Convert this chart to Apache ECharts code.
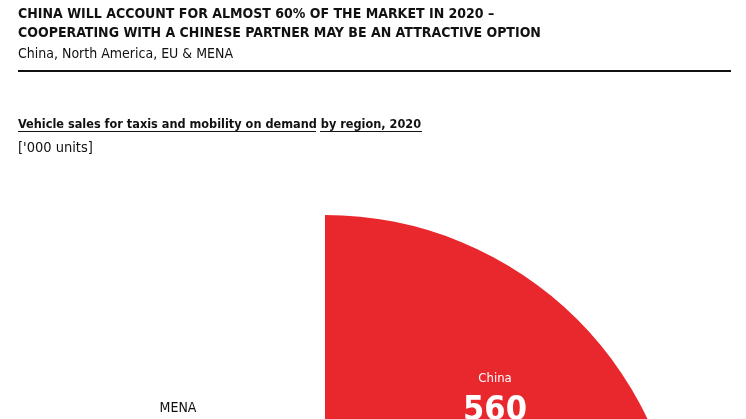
<!DOCTYPE html>
<html>
<head>
<meta charset="utf-8">
<script src="https://cdn.jsdelivr.net/npm/echarts@6/dist/echarts.min.js"></script>
<style>
html,body{margin:0;padding:0;background:#fff;}
#chart{width:746px;height:419px;}
</style>
</head>
<body>
<div id="chart"></div>
<script>
// ---- data ----
const regions = ['China', 'North America', 'EU', 'MENA'];
const sales = [560, 200, 110, 80];   // '000 units (only China legible; others estimated)
const sliceColors = ['#E8282D', '#ffffff', '#ffffff', '#ffffff'];

const titleLines = [
  'CHINA WILL ACCOUNT FOR ALMOST 60% OF THE MARKET IN 2020 \u2013',
  'COOPERATING WITH A CHINESE PARTNER MAY BE AN ATTRACTIVE OPTION'
];
const subtitle = 'China, North America, EU & MENA';
const chartTitleA = 'Vehicle sales for taxis and mobility on demand';
const chartTitleB = 'by region, 2020';
const unitText = "['000 units]";

const FONT = "'DejaVu Sans Condensed', 'Liberation Sans Narrow', Roboto, sans-serif";

const chart = echarts.init(document.getElementById('chart'), null, {renderer: 'canvas'});

const labelSpots = {
  'China': {x: 495, y: 401},
  'MENA': {x: 178, y: 408}
};

function t(text, top, size, bold) {
  return {text: text, left: 18, top: top, padding: 0,
    textStyle: {fontFamily: FONT, fontWeight: bold ? 'bold' : 'normal', fontSize: size, color: '#111'}};
}

const option = {
  animation: false,
  backgroundColor: '#fff',
  title: [
    t(titleLines[0], 7, 14, true),
    t(titleLines[1], 26, 14, true),
    t(subtitle, 47, 14, false),
    t(chartTitleA + ' ' + chartTitleB, 118, 12.6, true),
    t(unitText, 140.5, 14.5, false)
  ],
  graphic: [
    {type: 'line', shape: {x1: 18, y1: 71, x2: 731, y2: 71}, style: {stroke: '#111', lineWidth: 2}},
    {type: 'line', shape: {x1: 18, y1: 131.5, x2: 316, y2: 131.5}, style: {stroke: '#111', lineWidth: 1}},
    {type: 'line', shape: {x1: 320, y1: 131.5, x2: 422, y2: 131.5}, style: {stroke: '#111', lineWidth: 1}}
  ],
  series: [{
    type: 'pie',
    center: [325, 572],
    radius: 357,
    startAngle: 90,
    clockwise: true,
    silent: true,
    avoidLabelOverlap: false,
    labelLine: {show: false},
    itemStyle: {borderWidth: 0},
    label: {show: false},
    labelLayout: function (p) {
      const s = labelSpots[regions[p.dataIndex]];
      if (!s) return {};
      return {x: s.x, y: s.y, align: 'center', verticalAlign: 'middle'};
    },
    data: regions.map((r, i) => {
      const d = {name: r, value: sales[i], itemStyle: {color: sliceColors[i]}};
      if (r === 'China') {
        d.label = {show: true, position: 'inside', formatter: '{n|{b}}\n{v|{c}}',
          rich: {
            n: {fontFamily: FONT, fontSize: 13, color: '#fff', lineHeight: 20, align: 'center'},
            v: {fontFamily: FONT, fontWeight: 'bold', fontSize: 34, color: '#fff', lineHeight: 44, align: 'center'}
          }};
      } else if (r === 'MENA') {
        d.label = {show: true, position: 'inside', formatter: '{b}',
          fontFamily: FONT, fontSize: 14, color: '#111'};
      }
      return d;
    })
  }]
};
chart.setOption(option);
</script>
</body>
</html>
